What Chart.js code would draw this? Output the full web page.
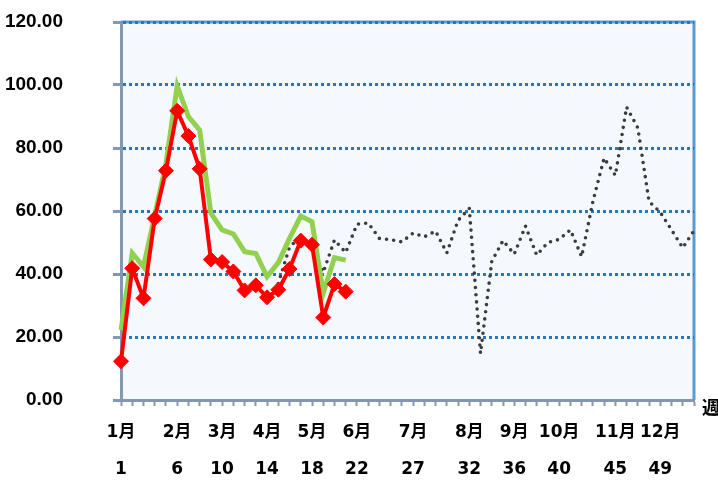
<!DOCTYPE html>
<html>
<head>
<meta charset="utf-8">
<script src="https://cdn.jsdelivr.net/npm/chart.js@4/dist/chart.umd.min.js"></script>
<style>
  html, body { margin: 0; padding: 0; background: #fff; }
  #wrap { width: 718px; height: 480px; position: relative; }
</style>
</head>
<body>
<div id="wrap"><canvas id="chart" width="718" height="480"></canvas></div>
<script>
// ── Data ─────────────────────────────────────────────────────────
const WEEKS = Array.from({ length: 52 }, (_, i) => i + 1);
const MONTH_TICKS = { 1: '1月', 6: '2月', 10: '3月', 14: '4月', 18: '5月', 22: '6月',
                      27: '7月', 32: '8月', 36: '9月', 40: '10月', 45: '11月', 49: '12月' };
const Y_TICKS = [0, 20, 40, 60, 80, 100, 120];

// this season (red, diamonds) — weeks 1..21
const RED = [12.3, 41.8, 32.3, 57.6, 72.8, 91.8, 83.8, 73.4, 44.6, 43.8, 40.8, 34.8, 36.4, 32.6,
             35.0, 41.6, 50.6, 49.3, 26.2, 36.8, 34.4];
// green — weeks 1..21
const GREEN = [22.2, 46.6, 42.3, 58.5, 75.0, 99.7, 90.0, 85.7, 59.3, 54.0, 52.7, 47.1, 46.5, 39.2,
               43.6, 51.3, 58.4, 56.6, 33.9, 45.2, 44.4];
// gray dotted — weeks 15..52
const GRAY_START = 15;
const GRAY = [37.0, 48.5, 52.0, 48.0, 40.5, 50.8, 46.8, 55.8, 56.2, 51.3, 50.9, 50.2, 53.0, 51.8,
              53.6, 46.7, 57.0, 60.8, 14.8, 44.0, 50.6, 46.3, 55.2, 46.0, 50.0, 51.0, 54.0, 45.5,
              63.0, 76.8, 71.3, 93.0, 86.4, 63.0, 59.6, 54.0, 48.3, 53.8];

// ── Build ────────────────────────────────────────────────────────
const labels = WEEKS.map(w => MONTH_TICKS[w] ? [MONTH_TICKS[w], String(w)] : '');
const pad = (arr, start) => WEEKS.map(w => {
  const v = arr[w - start];
  return v === undefined ? null : v;
});

const AXIS = '#8497b0';
const GRID = '#2e75b6';
const FRAME = '#5b9bd5';

const plotDeco = {
  id: 'plotDeco',
  beforeDraw(chart) {
    const { ctx, chartArea: a } = chart;
    ctx.save();
    ctx.fillStyle = '#f5f9fe';
    ctx.fillRect(a.left, a.top, a.right - a.left, a.bottom - a.top);
    ctx.strokeStyle = FRAME;
    ctx.lineWidth = 3;
    ctx.beginPath();
    ctx.moveTo(a.left, a.top);
    ctx.lineTo(a.right, a.top);
    ctx.lineTo(a.right, a.bottom);
    ctx.stroke();
    ctx.restore();
  },
  afterDraw(chart) {
    const { ctx, chartArea: a } = chart;
    ctx.save();
    ctx.fillStyle = '#000';
    ctx.font = 'bold 18px "DejaVu Sans", "Noto Sans CJK JP", sans-serif';
    ctx.textAlign = 'left';
    ctx.textBaseline = 'middle';
    ctx.fillText('週', a.right + 8, a.bottom + 9);
    ctx.restore();
  }
};

new Chart(document.getElementById('chart'), {
  type: 'line',
  data: {
    labels,
    datasets: [
      {
        label: 'red', data: pad(RED, 1),
        borderColor: '#ff0000', backgroundColor: '#ff0000', borderWidth: 4,
        pointStyle: 'rectRot', pointRadius: 7.5, pointBorderWidth: 1,
        pointBackgroundColor: '#ff0000', pointBorderColor: '#ff0000',
        tension: 0, spanGaps: false
      },
      {
        label: 'green', data: pad(GREEN, 1),
        borderColor: '#92d050', borderWidth: 5, pointRadius: 0, tension: 0
      },
      {
        label: 'gray', data: pad(GRAY, GRAY_START),
        borderColor: '#3c3c3c', borderWidth: 3.6, pointRadius: 0, tension: 0,
        borderDash: [0, 7.2], borderCapStyle: 'round'
      }
    ]
  },
  options: {
    responsive: false,
    animation: false,
    layout: { padding: { top: 22, right: 24, left: 0, bottom: 0 } },
    plugins: { legend: { display: false }, tooltip: { enabled: false } },
    scales: {
      x: {
        offset: false,
        grid: { drawOnChartArea: false, drawTicks: true, tickLength: 6, tickColor: AXIS, tickWidth: 2 },
        border: { display: true, color: AXIS, width: 3 },
        ticks: {
          autoSkip: false, maxRotation: 0, minRotation: 0, padding: 8.5, color: '#000',
          font: { family: '"DejaVu Sans", "Noto Sans CJK JP", sans-serif', size: 17, weight: 'bold', lineHeight: '37px' }
        },
        afterFit(scale) { scale.height = 80; }
      },
      y: {
        min: 0, max: 120,
        afterBuildTicks(scale) { scale.ticks = Y_TICKS.map(v => ({ value: v })); },
        grid: {
          color: c => c.tick && c.tick.value === 0 ? 'rgba(0,0,0,0)' : GRID,
          lineWidth: 3, drawTicks: true, tickLength: 8, tickColor: AXIS, tickWidth: 3
        },
        border: { display: true, color: AXIS, width: 3, dash: [3, 3] },
        ticks: {
          padding: 50, color: '#000',
          font: { family: '"Liberation Sans", Arial, sans-serif', size: 19, weight: 'bold' },
          callback: v => Number(v).toFixed(2)
        },
        afterFit(scale) {
          scale.width = 121;
          // tick padding only widens the gap to the labels, not the top/bottom room
          scale.paddingTop = 11;
          scale.paddingBottom = 11;
        }
      }
    }
  },
  plugins: [plotDeco]
});
</script>
</body>
</html>
